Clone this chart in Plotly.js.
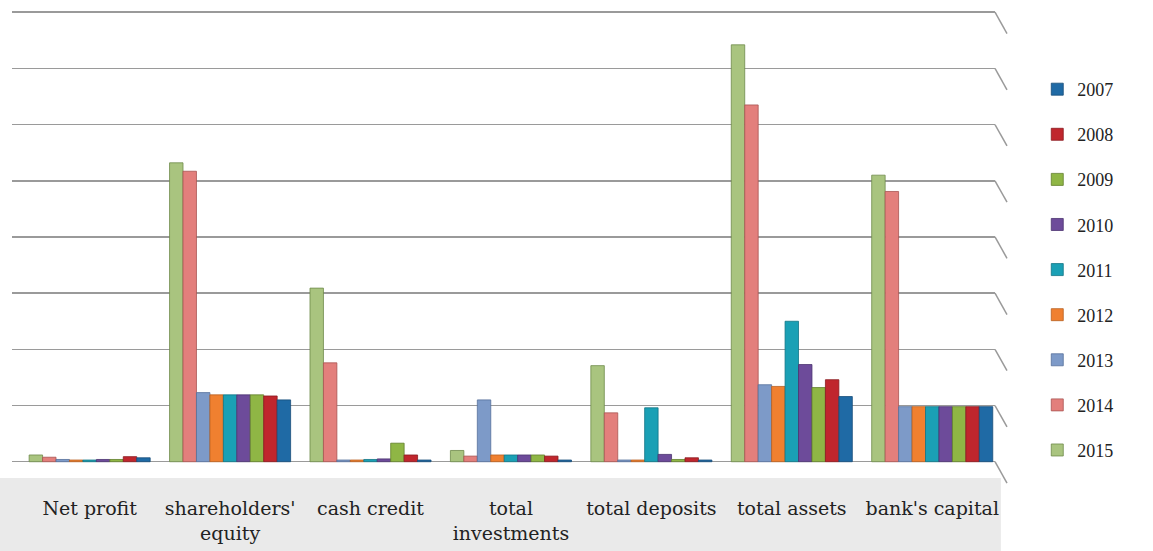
<!DOCTYPE html>
<html>
<head>
<meta charset="utf-8">
<script src="https://cdn.plot.ly/plotly-3.0.1.min.js"></script>
<style>html,body{margin:0;padding:0;background:#fff;}#chart{width:1153px;height:551px;}</style>
</head>
<body>
<div id="chart"></div>
<script>
const categories = ["Net profit", "shareholders'<br>equity", "cash credit", "total<br>investments", "total deposits", "total assets", "bank's capital"];
const years = ["2015", "2014", "2013", "2012", "2011", "2010", "2009", "2008", "2007"];
const v2015 = [0.12, 5.32, 3.09, 0.20, 1.71, 7.42, 5.10];
const v2014 = [0.08, 5.17, 1.76, 0.10, 0.87, 6.35, 4.81];
const v2013 = [0.04, 1.23, 0.03, 1.10, 0.03, 1.37, 0.98];
const v2012 = [0.03, 1.19, 0.03, 0.12, 0.03, 1.34, 0.98];
const v2011 = [0.03, 1.19, 0.04, 0.12, 0.96, 2.50, 0.98];
const v2010 = [0.04, 1.19, 0.05, 0.12, 0.13, 1.73, 0.98];
const v2009 = [0.04, 1.19, 0.33, 0.12, 0.04, 1.32, 0.98];
const v2008 = [0.09, 1.17, 0.12, 0.10, 0.07, 1.46, 0.98];
const v2007 = [0.07, 1.10, 0.03, 0.03, 0.03, 1.16, 0.98];
const values = [v2015, v2014, v2013, v2012, v2011, v2010, v2009, v2008, v2007];
const colors = ["#a9c47f", "#e37f7c", "#7d9ac8", "#f08030", "#1aa0b5", "#6d4b9a", "#8fb645", "#c0262d", "#1f6aa5"];
const lineColors = ["#6f8a4a", "#a85452", "#55709a", "#b8601f", "#127585", "#4b3370", "#627f2c", "#8a1a1f", "#164d78"];

const traces = years.map((yr, i) => ({
  type: 'bar',
  name: yr,
  x: categories,
  y: values[i],
  legendgroup: yr,
  legendrank: years.length - i,
  marker: {color: colors[i], line: {color: lineColors[i], width: 0.8}},
  hoverinfo: 'x+y+name'
}));

const gridVals = [0, 1, 2, 3, 4, 5, 6, 7, 8];
const shapes = [{
  type: 'rect', xref: 'paper', yref: 'paper', layer: 'below',
  x0: -12/983, x1: 1.006, y0: 0.0185, y1: -0.14,
  fillcolor: '#eaeaea', line: {width: 0}
}];
gridVals.forEach(k => shapes.push({
  type: 'line', xref: 'paper', yref: 'y', layer: 'between',
  x0: 1, x1: 1 + 12/983, y0: k, y1: k - 0.38,
  line: {color: '#9a9a9a', width: 1.5}
}));

const layout = {
  width: 1153, height: 551,
  margin: {l: 12, r: 158, t: 1, b: 64},
  paper_bgcolor: '#ffffff', plot_bgcolor: 'rgba(0,0,0,0)',
  barmode: 'group', bargap: 0.138, bargroupgap: 0,
  font: {family: 'DejaVu Serif', size: 19, color: '#222'},
  xaxis: {
    type: 'category', range: [-0.553, 6.447],
    showgrid: false, showline: false, zeroline: false, ticks: '',
    tickfont: {family: 'DejaVu Serif', size: 19, color: '#222'},
    ticklabelstandoff: 8, fixedrange: true
  },
  yaxis: {
    range: [-0.45, 8.2], dtick: 1, tick0: 0,
    showgrid: true, gridcolor: '#9a9a9a', gridwidth: 1.5,
    zeroline: false, showticklabels: false, showline: false, ticks: '', fixedrange: true
  },
  legend: {
    x: 1.043, xanchor: 'left', y: 0.856, yanchor: 'top',
    traceorder: 'grouped', tracegroupgap: 18.7,
    font: {family: 'Liberation Serif', size: 18, color: '#222'},
    bgcolor: 'rgba(0,0,0,0)'
  },
  shapes: shapes,
  showlegend: true
};

Plotly.newPlot('chart', traces, layout, {displayModeBar: false, staticPlot: true});
</script>
</body>
</html>
